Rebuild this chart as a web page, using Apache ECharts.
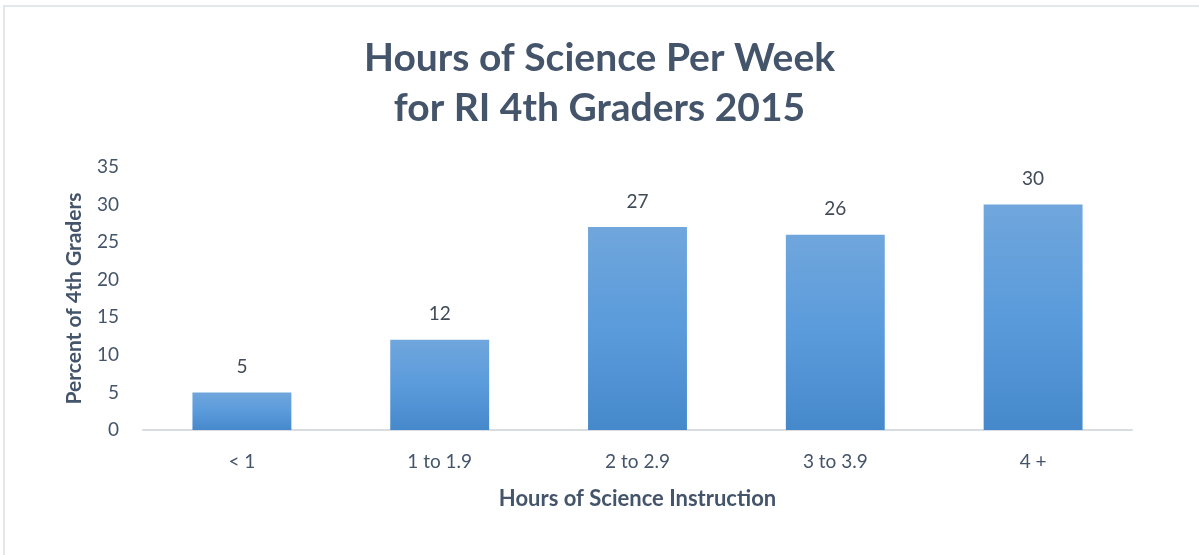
<!DOCTYPE html>
<html>
<head>
<meta charset="utf-8">
<script src="https://cdn.jsdelivr.net/npm/echarts@6/dist/echarts.min.js"></script>
<style>
  html, body { margin: 0; padding: 0; background: #fff; }
  #frame { position: absolute; left: 3px; top: 5px; width: 1210px; height: 560px; border: 2px solid #e3e6ea; box-sizing: border-box; }
  #chart { width: 1199px; height: 555px; }
</style>
</head>
<body>
<div id="frame"></div>
<div id="chart"></div>
<script>
var categories = ['< 1', '1 to 1.9', '2 to 2.9', '3 to 3.9', '4 +'];
var percents = [5, 12, 27, 26, 30];
var yTicks = [0, 5, 10, 15, 20, 25, 30, 35];

var textColor = '#44546A';
var font = 'Lato';

var chart = echarts.init(document.getElementById('chart'));
chart.setOption({
    backgroundColor: 'transparent',
    animation: false,
    title: {
        text: 'Hours of Science Per Week\nfor RI 4th Graders 2015',
        left: 'center',
        top: 28,
        textStyle: { fontFamily: font, fontSize: 39, fontWeight: 'bold', color: textColor, lineHeight: 50 }
    },
    grid: { left: 143, right: 67, top: 167, bottom: 125, containLabel: false },
    xAxis: {
        type: 'category',
        data: categories,
        name: 'Hours of Science Instruction',
        nameLocation: 'middle',
        nameGap: 58,
        nameTextStyle: { fontFamily: font, fontSize: 22, fontWeight: 'bold', color: textColor },
        axisLine: { lineStyle: { color: '#d9dde3', width: 2 } },
        axisTick: { show: false },
        axisLabel: { margin: 22, fontFamily: font, fontSize: 19, color: textColor }
    },
    yAxis: {
        type: 'value',
        min: yTicks[0],
        max: yTicks[yTicks.length - 1],
        interval: 5,
        name: 'Percent of 4th Graders',
        nameLocation: 'middle',
        nameGap: 58,
        nameTextStyle: { fontFamily: font, fontSize: 21, fontWeight: 'bold', color: textColor },
        splitLine: { show: false },
        axisLine: { show: false },
        axisTick: { show: false },
        axisLabel: { margin: 24, fontFamily: font, fontSize: 19, color: textColor }
    },
    series: [{
        type: 'bar',
        data: percents,
        barWidth: '50%',
        itemStyle: {
            color: new echarts.graphic.LinearGradient(0, 0, 0, 1, [
                { offset: 0, color: '#70a6dc' },
                { offset: 0.5, color: '#5a9bdb' },
                { offset: 1, color: '#4689cb' }
            ])
        },
        label: {
            show: true,
            position: 'top',
            distance: 16,
            fontFamily: font,
            fontSize: 19,
            color: '#404a58'
        }
    }]
});
</script>
</body>
</html>
